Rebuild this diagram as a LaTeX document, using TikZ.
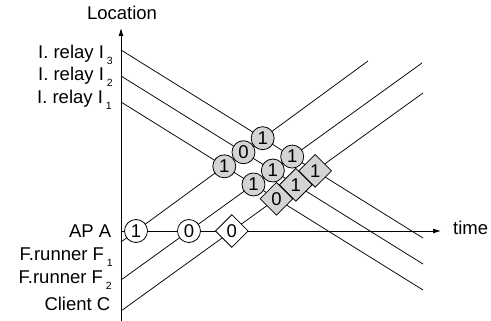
\documentclass[tikz,border=0pt]{standalone}
\usepackage{fontspec}
\setmainfont{Liberation Sans}
\usetikzlibrary{arrows.meta,shapes.geometric}
\definecolor{tokgray}{RGB}{212,212,212}
\newcommand\lsub[1]{\kern3pt\raisebox{-6pt}{\fontsize{10.5}{11}\selectfont #1}}
\begin{document}
\begin{tikzpicture}[x=1pt,y=-1pt,font=\fontsize{18.5}{20}\selectfont,
  lbl/.style={inner sep=0,anchor=base east},
  wcirc/.style={circle,draw,line width=0.8pt,fill=white,minimum size=23pt,inner sep=0},
  gcirc/.style={wcirc,fill=tokgray},
  wdiam/.style={diamond,draw,line width=0.8pt,fill=white,minimum size=33pt,inner sep=0},
  gdiam/.style={wdiam,fill=tokgray},
  trace/.style={line width=0.75pt},
  axisline/.style={line width=0.9pt,-{Latex[length=8pt,width=5pt]}}]
\useasboundingbox (0,0) rectangle (491,321);
% axes
\coordinate (o) at (121,321);
\coordinate (ytop) at (121,28);
\coordinate (xstart) at (121,231);
\coordinate (xend) at (441,231);
% descending traces (relays)
\coordinate (d3a) at (121,50);  \coordinate (d3b) at (423,238);
\coordinate (d2a) at (121,76);  \coordinate (d2b) at (423,264);
\coordinate (d1a) at (121,102); \coordinate (d1b) at (423,290);
% rising traces
\coordinate (r1a) at (121,242); \coordinate (r1b) at (368,61);
\coordinate (r2a) at (121,280); \coordinate (r2b) at (422,63);
\coordinate (r3a) at (121,311); \coordinate (r3b) at (423,93);
\draw[trace] (d3a) -- (d3b);
\draw[trace] (d2a) -- (d2b);
\draw[trace] (d1a) -- (d1b);
\draw[trace] (r1a) -- (r1b);
\draw[trace] (r2a) -- (r2b);
\draw[trace] (r3a) -- (r3b);
\draw[axisline] (o) -- (ytop);
\draw[axisline] (xstart) -- (xend);
% nodes on AP axis
\node[wcirc] (a1) at (intersection of r1a--r1b and xstart--xend) {1};
\node[wcirc] (a2) at (intersection of r2a--r2b and xstart--xend) {0};
\node[wdiam] (a3) at (intersection of r3a--r3b and xstart--xend) {0};
% grey circles
\node[gcirc] (g13) at (intersection of r1a--r1b and d3a--d3b) {1};
\node[gcirc] (g12) at (intersection of r1a--r1b and d2a--d2b) {0};
\node[gcirc] (g11) at (intersection of r1a--r1b and d1a--d1b) {1};
\node[gcirc] (g23) at (intersection of r2a--r2b and d3a--d3b) {1};
\node[gcirc] (g22) at (intersection of r2a--r2b and d2a--d2b) {1};
\node[gcirc] (g21) at (intersection of r2a--r2b and d1a--d1b) {1};
% grey diamonds
\node[gdiam] (c3) at (intersection of r3a--r3b and d3a--d3b) {1};
\node[gdiam] (c2) at (intersection of r3a--r3b and d2a--d2b) {1};
\node[gdiam] (c1) at (intersection of r3a--r3b and d1a--d1b) {0};
% labels
\node[lbl] (lI3) at (113,58.3) {I. relay I\lsub{3}};
\node[lbl] (lI2) at (113,80.7) {I. relay I\lsub{2}};
\node[lbl] (lI1) at (112,103.3) {I. relay I\lsub{1}};
\node[lbl] (lA) at (111.5,237.7) {AP A};
\node[lbl] (lF1) at (113,260) {F.runner F\lsub{1}};
\node[lbl] (lF2) at (112,283.3) {F.runner F\lsub{2}};
\node[lbl] (lC) at (110.5,310) {Client C};
\node[inner sep=0,anchor=base] (loc) at (122,20) {Location};
\node[inner sep=0,anchor=base west] (time) at (453,234) {time};
\end{tikzpicture}
\end{document}
